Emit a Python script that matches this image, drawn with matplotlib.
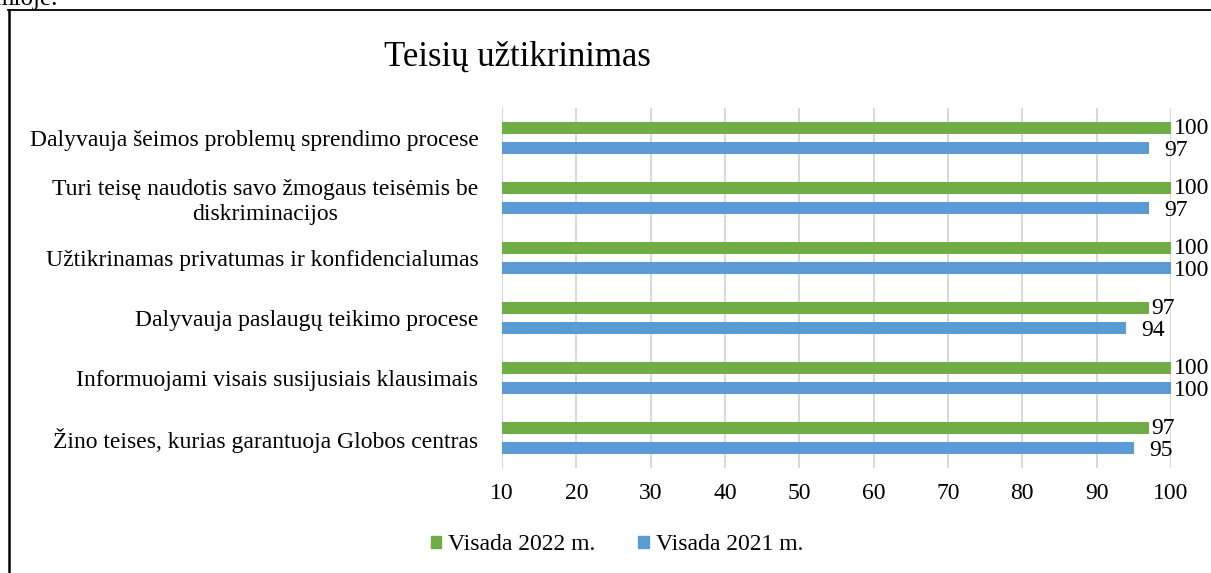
import matplotlib
matplotlib.use("Agg")
import matplotlib.pyplot as plt
import numpy as np
from matplotlib.lines import Line2D

categories = [
    "Dalyvauja šeimos problemų sprendimo procese",
    "Turi teisę naudotis savo žmogaus teisėmis be\ndiskriminacijos",
    "Užtikrinamas privatumas ir konfidencialumas",
    "Dalyvauja paslaugų teikimo procese",
    "Informuojami visais susijusiais klausimais",
    "Žino teises, kurias garantuoja Globos centras",
]
values_2022 = [100, 100, 100, 97, 100, 97]
values_2021 = [97, 97, 100, 94, 100, 95]
series_names = ["Visada 2022 m.", "Visada 2021 m."]
title = "Teisių užtikrinimas"
xticks = [10, 20, 30, 40, 50, 60, 70, 80, 90, 100]

GREEN = "#70ad47"
BLUE = "#5b9bd5"
FONT = "Liberation Serif"
plt.rcParams["font.family"] = [FONT, "DejaVu Serif"]
FS = 17

W, H = 1211, 573
fig = plt.figure(figsize=(W / 100, H / 100), dpi=100)
ax = fig.add_axes([502 / W, 1 - 468 / H, (1171 - 502) / W, (468 - 108) / H])

n = len(categories)
y = np.arange(n)[::-1].astype(float)
off = 1 / 6
bh = 0.185
ax.barh(y + off, [v - 10 for v in values_2022], left=10, height=bh, color=GREEN, label=series_names[0], zorder=3)
ax.barh(y - off, [v - 10 for v in values_2021], left=10, height=bh, color=BLUE, label=series_names[1], zorder=3)

for yi, v in zip(y + off, values_2022):
    ax.annotate(str(v), (v, yi), xytext=(2, 0), textcoords="offset points",
                ha="left", va="center", fontsize=FS, color="black")
for yi, v in zip(y - off, values_2021):
    dx = 2 if v == 100 else 11
    ax.annotate(str(v), (v, yi), xytext=(dx, -2), textcoords="offset points",
                ha="left", va="center", fontsize=FS, color="black")

ax.set_xlim(10, 100)
ax.set_ylim(-0.5, n - 0.5)
ax.set_xticks(xticks)
ax.set_xticklabels([str(t) for t in xticks], fontsize=FS)
ax.set_yticks(y)
ax.set_yticklabels(categories, fontsize=FS, multialignment="center")
ax.tick_params(axis="both", length=0)
ax.tick_params(axis="x", pad=11)
ax.tick_params(axis="y", pad=17)
for s in ax.spines.values():
    s.set_visible(False)
ax.grid(axis="x", color="#d9d9d9", linewidth=1.5, zorder=0)
ax.set_axisbelow(True)

fig.text(517 / W, 1 - 57 / H, title, ha="center", va="center", fontsize=25)

handles = [plt.Rectangle((0, 0), 1, 1, color=GREEN), plt.Rectangle((0, 0), 1, 1, color=BLUE)]
fig.legend(handles, series_names, loc="center", bbox_to_anchor=(617 / W, 1 - 545 / H),
           ncol=2, frameon=False, fontsize=FS, handlelength=0.45, handleheight=0.45,
           columnspacing=1.8, handletextpad=0.3)

# frame of the surrounding box
fig.add_artist(Line2D([9 / W, 9 / W], [0, 1 - 10 / H], transform=fig.transFigure, color="black", linewidth=1.8))
fig.add_artist(Line2D([8 / W, 1], [1 - 10 / H, 1 - 10 / H], transform=fig.transFigure, color="black", linewidth=1.3))
fig.text(-6 / W, 1 - 5 / H, "mioje.", ha="left", va="baseline", fontsize=18)

fig.savefig("out.png", dpi=100)
